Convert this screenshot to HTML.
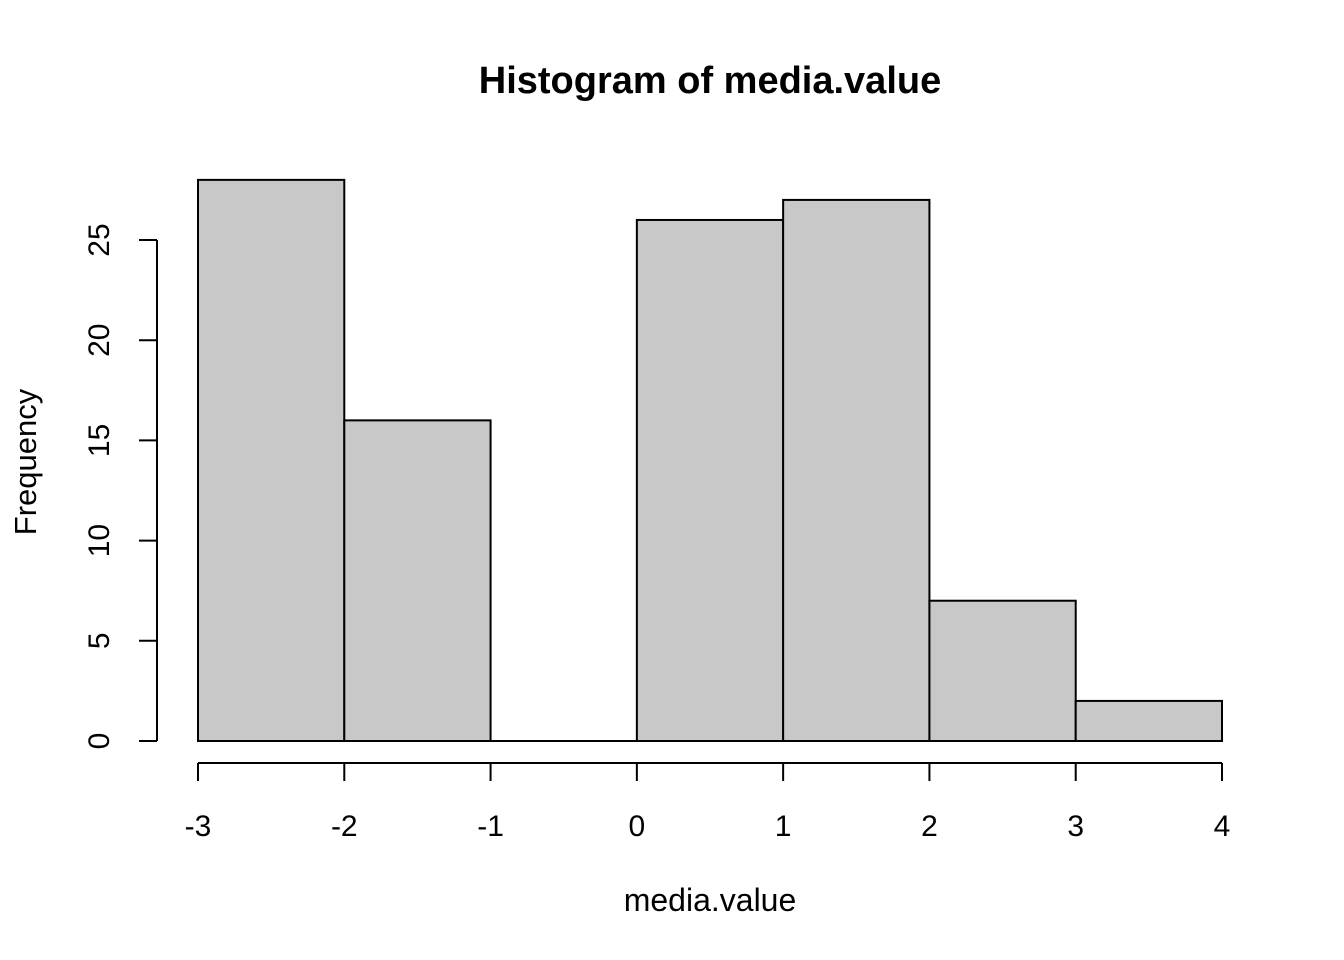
<!DOCTYPE html>
<html><head><meta charset="utf-8"><style>
html,body{margin:0;padding:0;background:#fff;}
svg{display:block;font-family:"Liberation Sans",Arial,sans-serif;}
</style></head><body>
<svg id="chart" width="1344" height="960" xmlns="http://www.w3.org/2000/svg">
<rect width="1344" height="960" fill="#fff"/>
<text x="710" y="93" text-anchor="middle" font-size="38" font-weight="bold">Histogram of media.value</text>
<text x="710" y="911" text-anchor="middle" font-size="32">media.value</text>
<text transform="translate(36,462) rotate(-90)" text-anchor="middle" font-size="31">Frequency</text>
<g id="bars"></g>
<g id="xaxis"></g>
<g id="yaxis"></g>
</svg>
<script>
const binEdges = [-3,-2,-1,0,1,2,3,4];
const counts = [28,16,0,26,27,7,2];
const xTicks = [-3,-2,-1,0,1,2,3,4];
const yTicks = [0,5,10,15,20,25];
const NS="http://www.w3.org/2000/svg";
function xs(v){return 198+(v+3)*(1222-198)/7;}
function ys(v){return 741-v*(741-240)/25;}
function mk(tag,attrs,parent){const e=document.createElementNS(NS,tag);for(const k in attrs)e.setAttribute(k,attrs[k]);parent.appendChild(e);return e;}
const bars=document.getElementById('bars');
counts.forEach((c,i)=>{
  const x0=xs(binEdges[i]),x1=xs(binEdges[i+1]);
  if(c===0){
    const l=mk('line',{x1:x0,x2:x1,y1:ys(0),y2:ys(0),stroke:'#000','stroke-width':2},bars);
    
    
    return;
  }
  const r=mk('rect',{x:x0,y:ys(c),width:x1-x0,height:ys(0)-ys(c),fill:'#c8c8c8',stroke:'#000','stroke-width':2},bars);
  
  
});
const xa=document.getElementById('xaxis');
mk('line',{x1:xs(xTicks[0]),x2:xs(xTicks[xTicks.length-1]),y1:763,y2:763,stroke:'#000','stroke-width':2},xa);
xTicks.forEach(t=>{
  mk('line',{x1:xs(t),x2:xs(t),y1:763,y2:781,stroke:'#000','stroke-width':2},xa);
  const tx=mk('text',{x:xs(t),y:836,'text-anchor':'middle','font-size':30},xa);
  tx.textContent=t;
  
  
});
const ya=document.getElementById('yaxis');
mk('line',{x1:157,x2:157,y1:ys(yTicks[0]),y2:ys(yTicks[yTicks.length-1]),stroke:'#000','stroke-width':2},ya);
yTicks.forEach(t=>{
  mk('line',{x1:139,x2:157,y1:ys(t),y2:ys(t),stroke:'#000','stroke-width':2},ya);
  const tx=mk('text',{transform:'translate(109,'+ys(t)+') rotate(-90)','text-anchor':'middle','font-size':30},ya);
  tx.textContent=t;
  
  
});
</script>
</body></html>
